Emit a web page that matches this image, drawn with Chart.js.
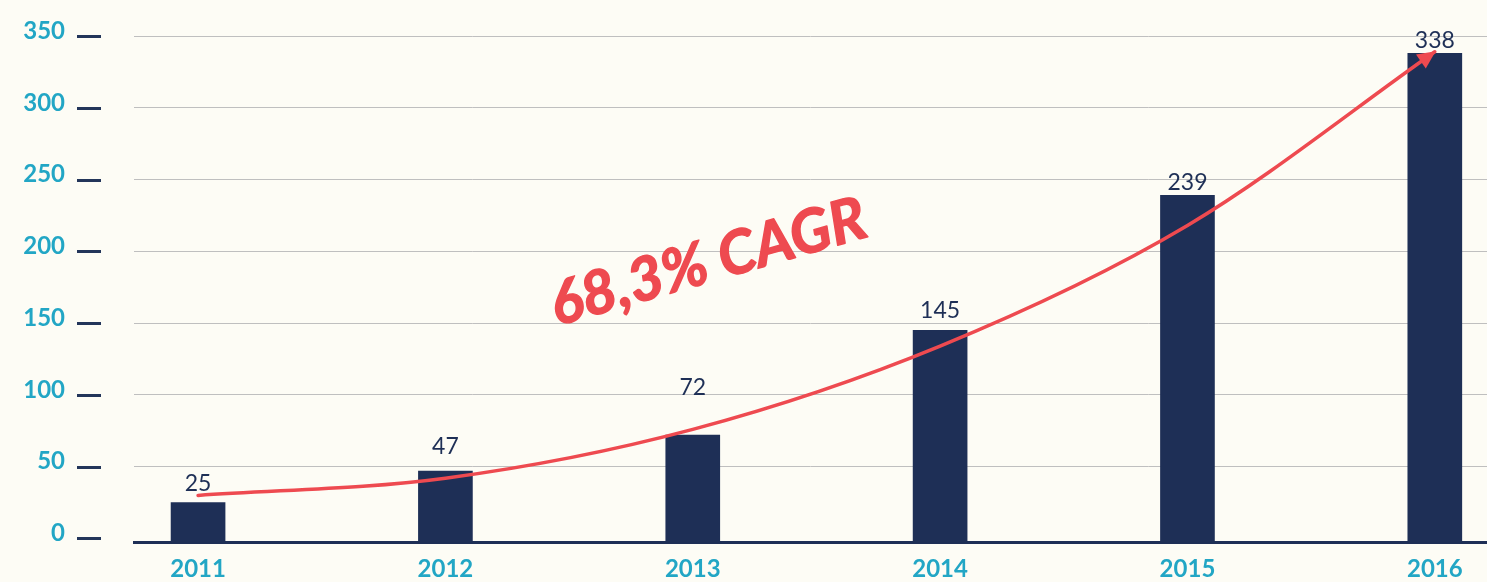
<!DOCTYPE html>
<html>
<head>
<meta charset="utf-8">
<script src="https://cdn.jsdelivr.net/npm/chart.js@4.4.1/dist/chart.umd.min.js"></script>
<style>
  html, body { margin: 0; padding: 0; background: #fdfcf5; }
  canvas { display: block; }
</style>
</head>
<body>
<canvas id="c" width="1487" height="582"></canvas>
<script>
// ---- data ----
const categories = ['2011', '2012', '2013', '2014', '2015', '2016'];
const revenue = [25, 47, 72, 145, 239, 338];
const cagrCurve = [30, 42, 76, 134, 218, 339];
const yTicks = [0, 50, 100, 150, 200, 250, 300, 350];
const annotationText = '68,3% CAGR';

// ---- styles ----
const NAVY = '#1e2f56';
const TEAL = '#22a6c5';
const RED = '#ee4a50';
const BG = '#fdfcf5';
const labelGaps = [12, 17, 40, 12, 5, 5];

const decor = {
  id: 'decor',
  beforeDraw(chart) {
    const ctx = chart.ctx;
    ctx.save();
    ctx.fillStyle = BG;
    ctx.fillRect(0, 0, chart.width, chart.height);
    ctx.restore();
  },
  afterDatasetsDraw(chart) {
    const ctx = chart.ctx;
    const ys = chart.scales.y, xs = chart.scales.x;
    ctx.save();
    // tick dashes next to y labels
    ctx.strokeStyle = '#23355a';
    ctx.lineWidth = 3;
    yTicks.forEach(v => {
      const y = Math.round(ys.getPixelForValue(v)) + 0.5;
      ctx.beginPath();
      ctx.moveTo(77, y);
      ctx.lineTo(101, y);
      ctx.stroke();
    });
    // value labels above bars
    const barMeta = chart.getDatasetMeta(0);
    ctx.fillStyle = NAVY;
    ctx.font = '23px Lato';
    ctx.textAlign = 'center';
    ctx.textBaseline = 'alphabetic';
    barMeta.data.forEach((bar, i) => {
      ctx.fillText(String(revenue[i]), bar.x, bar.y - labelGaps[i]);
    });
    // arrowhead at the end of the curve
    const lineMeta = chart.getDatasetMeta(1);
    const pts = lineMeta.data;
    const last = pts[pts.length - 1];
    let dx = last.x - (last.cp1x ?? pts[pts.length - 2].x);
    let dy = last.y - (last.cp1y ?? pts[pts.length - 2].y);
    const len = Math.hypot(dx, dy) || 1;
    dx /= len; dy /= len;
    const L = 17, W = 8.5;
    const bx = last.x - dx * L, by = last.y - dy * L;
    ctx.fillStyle = RED;
    ctx.beginPath();
    ctx.moveTo(last.x + dx * 1, last.y + dy * 1);
    ctx.lineTo(bx - dy * W, by + dx * W);
    ctx.lineTo(bx + dy * W, by - dx * W);
    ctx.closePath();
    ctx.fill();
    // annotation text
    const tx = xs.getPixelForValue(2012.45);
    const ty = ys.getPixelForValue(148);
    ctx.translate(tx, ty);
    ctx.rotate(-16 * Math.PI / 180);
    ctx.fillStyle = RED;
    ctx.strokeStyle = RED;
    ctx.lineWidth = 1.4;
    ctx.lineJoin = 'round';
    ctx.font = 'italic bold 60px Lato';
    ctx.textAlign = 'left';
    ctx.textBaseline = 'alphabetic';
    ctx.fillText(annotationText, 0, 0);
    ctx.strokeText(annotationText, 0, 0);
    ctx.restore();
  }
};

new Chart(document.getElementById('c'), {
  data: {
    datasets: [
      {
        type: 'bar',
        data: revenue.map((v, i) => ({ x: Number(categories[i]), y: v })),
        backgroundColor: NAVY,
        barThickness: 54,
        base: -3,
        order: 2
      },
      {
        type: 'line',
        data: cagrCurve.map((v, i) => ({ x: Number(categories[i]), y: v })),
        borderColor: RED,
        borderWidth: 3.5,
        pointRadius: 0,
        fill: false,
        cubicInterpolationMode: 'monotone',
        borderCapStyle: 'round',
        order: 1
      }
    ]
  },
  options: {
    responsive: false,
    animation: false,
    devicePixelRatio: 1,
    layout: { padding: { top: 36, right: 0, bottom: 0, left: 0 } },
    plugins: { legend: { display: false }, tooltip: { enabled: false } },
    scales: {
      x: {
        type: 'linear',
        offset: false,
        min: 2010.741,
        max: 2016.211,
        grid: { display: false, drawTicks: false, offset: false },
        border: { display: true, color: NAVY, width: 3 },
        afterBuildTicks: s => { s.ticks = categories.map(c => ({ value: Number(c) })); },
        afterFit: s => { s.height = 39.2; s.paddingLeft = 0; s.paddingRight = 0; },
        ticks: {
          autoSkip: false,
          maxRotation: 0,
          padding: 12,
          color: TEAL,
          font: { family: 'Lato', size: 24, weight: 'bold' },
          callback: (v, i) => categories[i]
        }
      },
      y: {
        type: 'linear',
        min: -3,
        max: 350,
        grid: {
          drawTicks: false,
          color: ctx => (ctx.tick && ctx.tick.value === 0) ? 'rgba(0,0,0,0)' : '#bfbfbf',
          lineWidth: 1
        },
        border: { display: false },
        afterBuildTicks: s => { s.ticks = yTicks.map(v => ({ value: v })); },
        afterFit: s => { s.width = 134; s.paddingTop = 0; s.paddingBottom = 0; },
        ticks: {
          padding: 69,
          labelOffset: -5,
          color: TEAL,
          font: { family: 'Lato', size: 24, weight: 'bold' },
          callback: v => String(v)
        }
      }
    }
  },
  plugins: [decor]
});
</script>
</body>
</html>
